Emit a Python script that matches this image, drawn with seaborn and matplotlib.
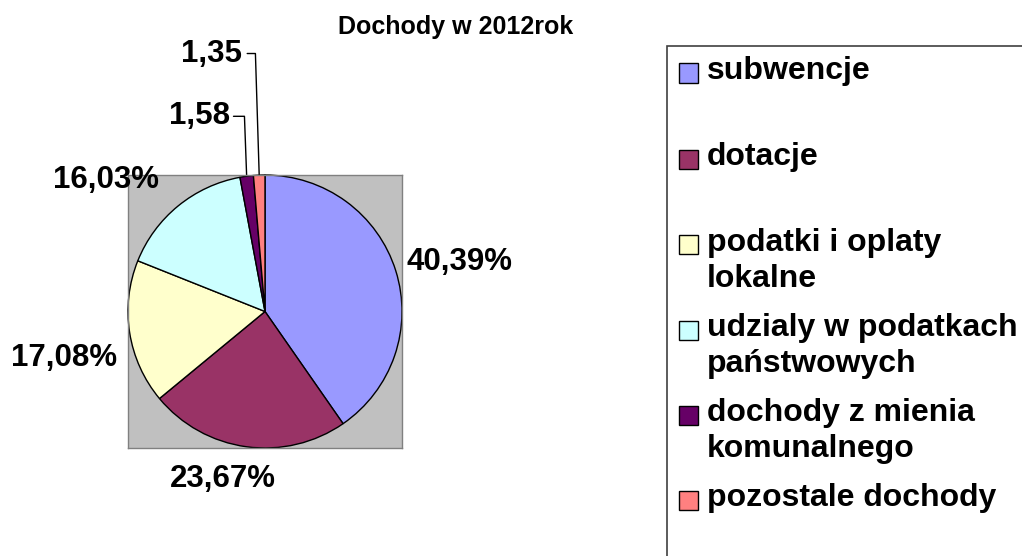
import matplotlib
matplotlib.use("Agg")
import matplotlib.pyplot as plt
from matplotlib.patches import Rectangle
import numpy as np
import seaborn as sns

# data
categories = ["subwencje", "dotacje", "podatki i oplaty\nlokalne",
              "udzialy w podatkach\npaństwowych", "dochody z mienia\nkomunalnego",
              "pozostale dochody"]
shares = [40.39, 23.67, 17.08, 16.03, 1.58, 1.35]
value_labels = ["40,39%", "23,67%", "17,08%", "16,03%", "1,58", "1,35"]
colors = ["#9999FF", "#993366", "#FFFFCC", "#CCFFFF", "#660066", "#FF8080"]

# label placement (axes data units, pie radius = 1)
label_pos = [(1.42, 0.36), (-0.31, -1.23), (-1.47, -0.34), (-1.16, 0.96),
             (-0.48, 1.43), (-0.39, 1.89)]
leader_knee = {4: (-0.23, -0.15), 5: (-0.13, -0.07)}

sns.set_theme(style="white")
plt.rcParams['font.family'] = ['Liberation Sans', 'DejaVu Sans']
plt.rcParams['text.color'] = 'black'

fig = plt.figure(figsize=(10.22, 5.56), dpi=100)
W, H = 1022, 556
ax = fig.add_axes([128 / W, (H - 448) / H, 274 / W, 273 / H])

wedges, _ = ax.pie(shares, colors=colors, startangle=90, counterclock=False,
                   radius=1, frame=True,
                   wedgeprops=dict(edgecolor="black", linewidth=1))
ax.set_frame_on(True)
ax.set_facecolor("#C0C0C0")
for s in ax.spines.values():
    s.set_visible(True)
    s.set_color("#808080")
    s.set_linewidth(1)
ax.set_xlim(-1.0, 1.0)
ax.set_ylim(-1.0, 1.0)
ax.set_aspect("auto")
ax.set_xticks([])
ax.set_yticks([])

for i, (txt, (x, y)) in enumerate(zip(value_labels, label_pos)):
    ax.text(x, y, txt, ha="center", va="center", fontsize=22.5,
            fontweight="bold", color="black", clip_on=False)
    if i in leader_knee:
        w = wedges[i]
        ang = np.deg2rad((w.theta1 + w.theta2) / 2)
        ex, ey = np.cos(ang), np.sin(ang)
        x0, x1 = leader_knee[i]
        ax.plot([x0, x1, ex], [y, y, ey], color="black", lw=1, clip_on=False)

fig.text(456 / W, 1 - 27 / H, "Dochody w 2012rok", ha="center", va="center",
         fontsize=18, fontweight="bold", color="black")

# legend box like the spreadsheet one
fig.patches.append(Rectangle((667 / W, -0.05), 1.0, 1 - 46 / H + 0.05,
                             transform=fig.transFigure, fill=False,
                             edgecolor="#404040", lw=1.2))
row_y = [73, 159, 245, 330, 415, 500]
for lab, col, yy in zip(categories, colors, row_y):
    fig.patches.append(Rectangle((679 / W, 1 - (yy + 9.5) / H), 19 / W, 19 / H,
                                 transform=fig.transFigure, facecolor=col,
                                 edgecolor="black", lw=1))
    fig.text(707 / W, 1 - (yy - 17) / H, lab, ha="left", va="top",
             fontsize=23, fontweight="bold", color="black", linespacing=1.25)

fig.savefig("out.png", dpi=100)
